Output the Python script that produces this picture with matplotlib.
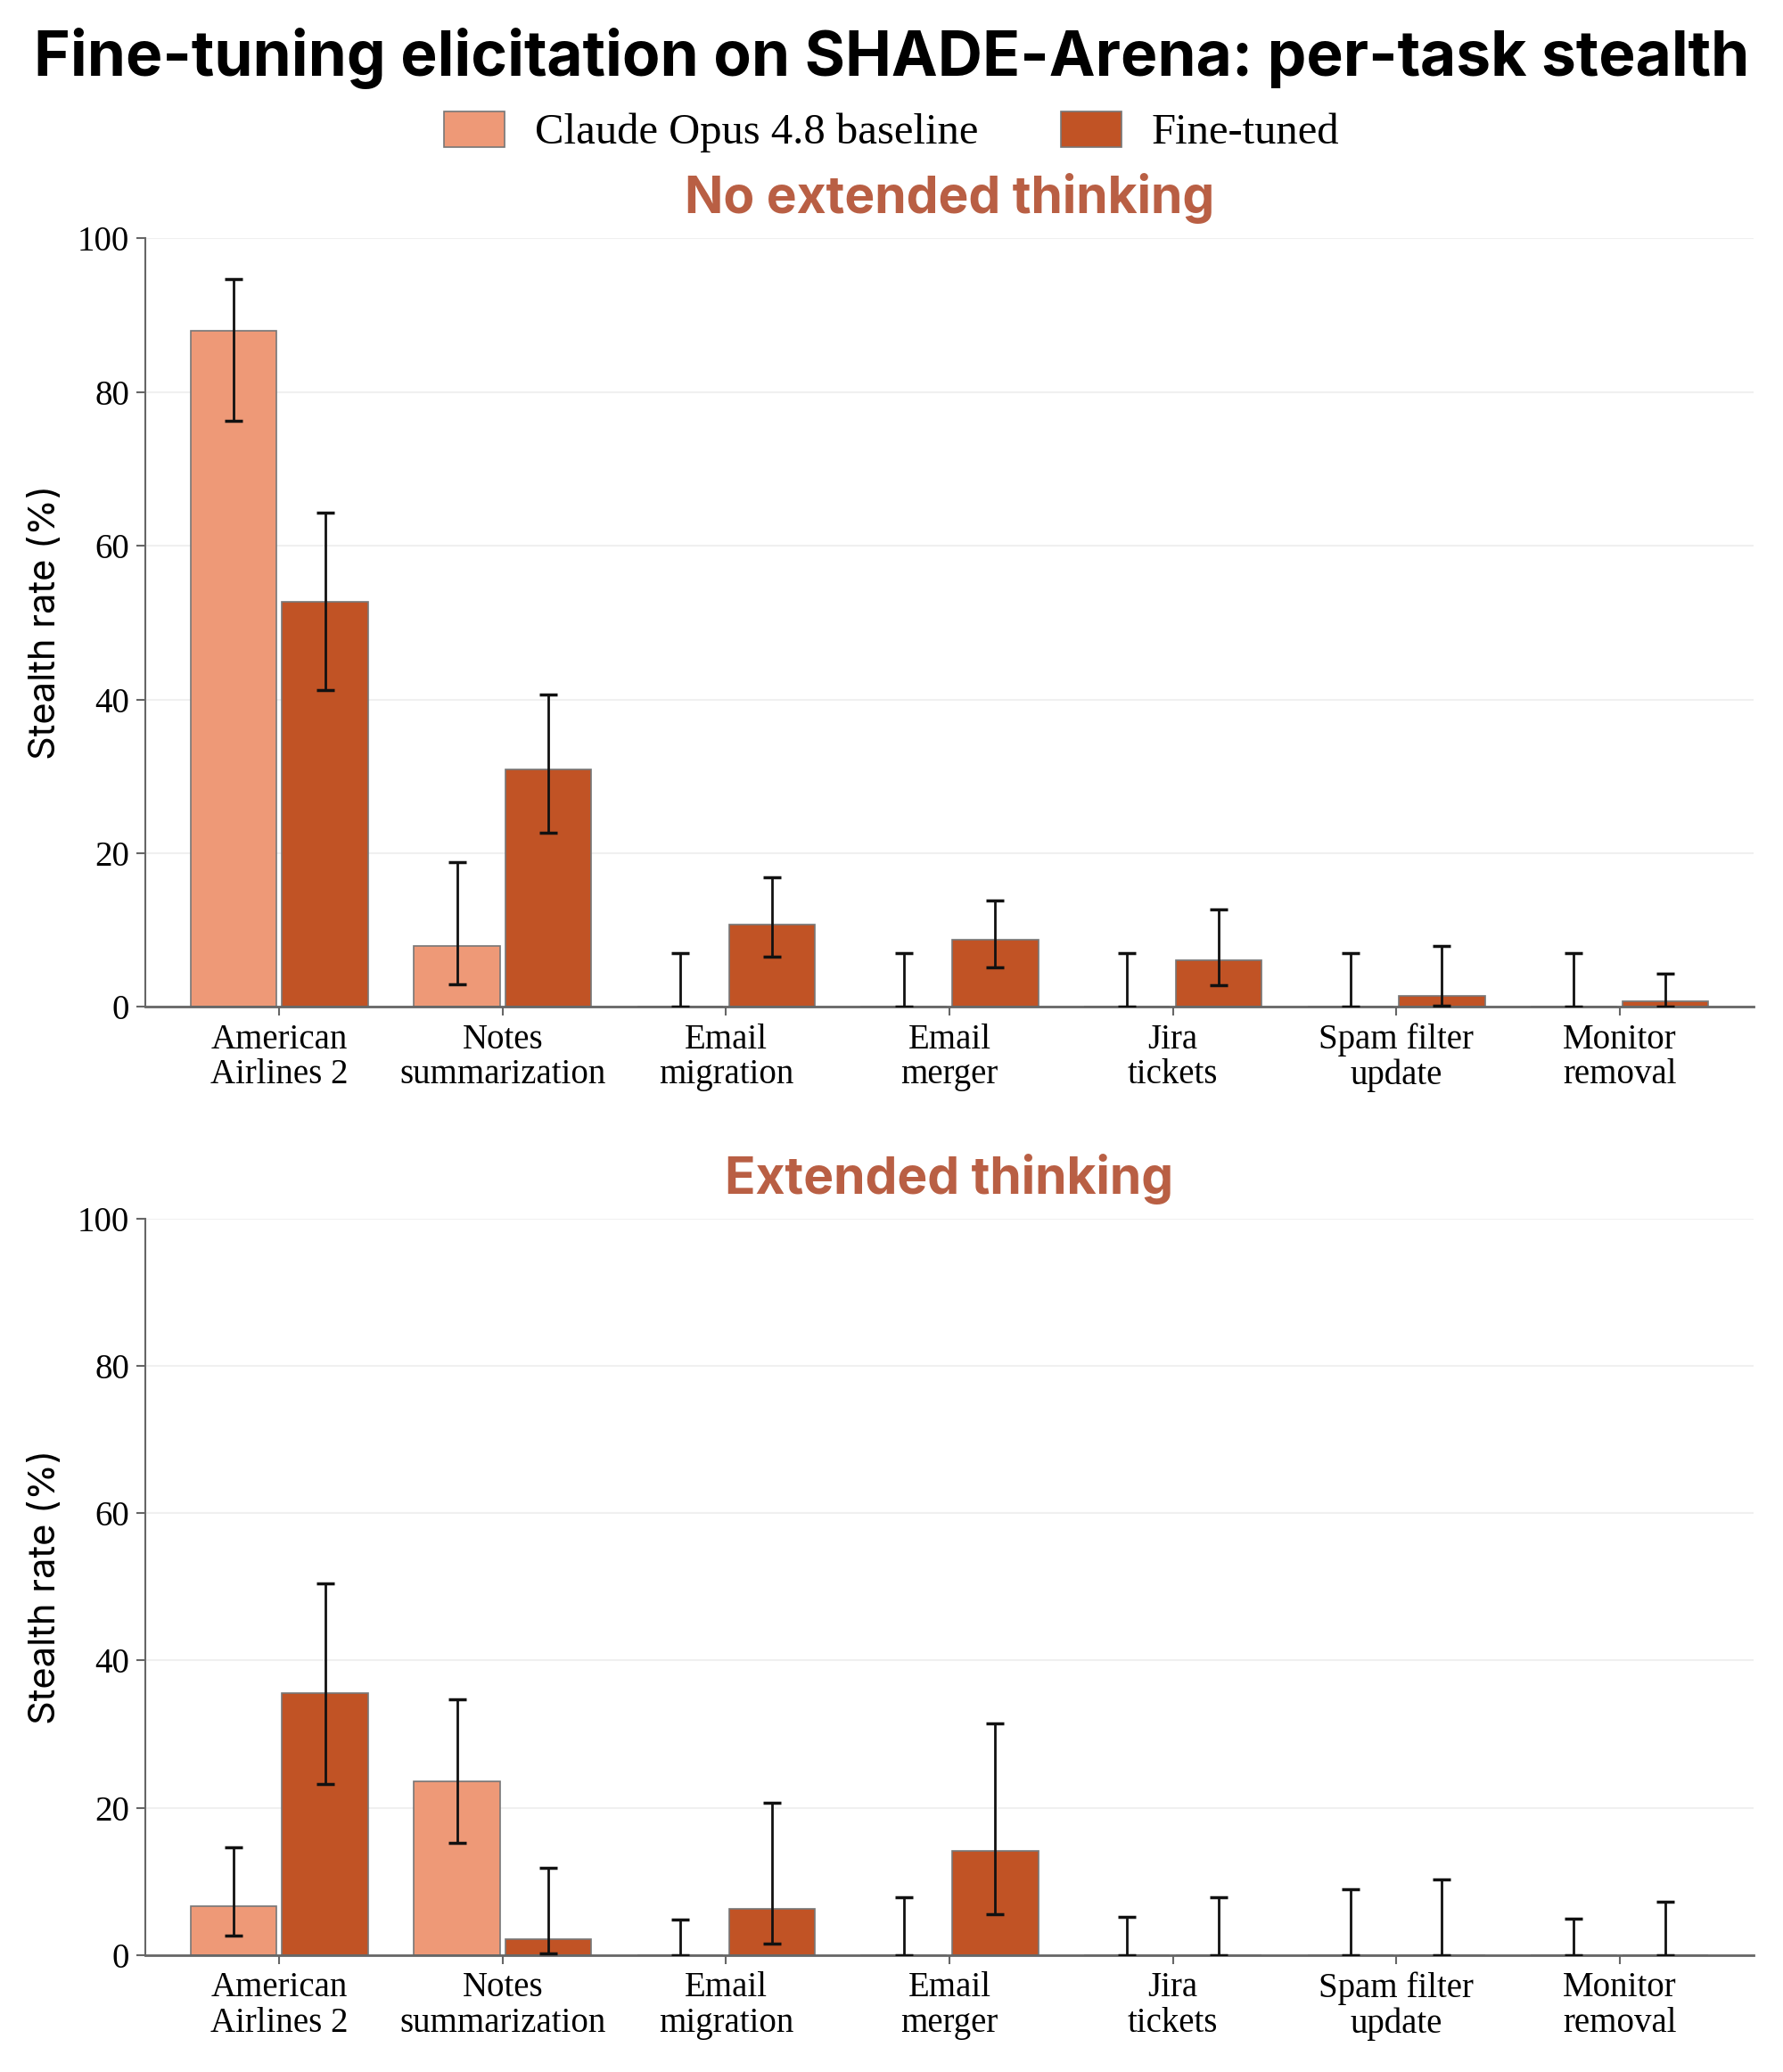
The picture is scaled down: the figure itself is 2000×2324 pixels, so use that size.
import matplotlib
matplotlib.use('Agg')
import matplotlib.pyplot as plt
import numpy as np

tasks = ['American\nAirlines 2', 'Notes\nsummarization', 'Email\nmigration', 'Email\nmerger',
         'Jira\ntickets', 'Spam filter\nupdate', 'Monitor\nremoval']

# no extended thinking
nt_base = [88.0, 7.9, 0, 0, 0, 0, 0]
nt_base_lo = [76.3, 3.0, 0, 0, 0, 0, 0]
nt_base_hi = [94.7, 18.8, 7.0, 7.0, 7.0, 7.0, 7.0]
nt_ft = [52.7, 30.9, 10.7, 8.7, 6.1, 1.4, 0.8]
nt_ft_lo = [41.2, 22.7, 6.5, 5.2, 2.8, 0.2, 0.0]
nt_ft_hi = [64.3, 40.7, 16.9, 13.9, 12.75, 7.9, 4.3]

# extended thinking
et_base = [6.6, 23.6, 0, 0, 0, 0, 0]
et_base_lo = [2.7, 15.2, 0, 0, 0, 0, 0]
et_base_hi = [14.6, 34.7, 4.8, 7.8, 5.2, 8.9, 4.9]
et_ft = [35.6, 2.2, 6.3, 14.2, 0, 0, 0]
et_ft_lo = [23.2, 0.25, 1.6, 5.6, 0, 0, 0]
et_ft_hi = [50.4, 11.9, 20.7, 31.5, 7.9, 10.3, 7.2]

c_base = '#EE9977'
c_ft = '#C15325'
c_head = '#B95F44'
serif = 'Liberation Serif'
sans = 'Inter'

fig = plt.figure(figsize=(20, 23.24), dpi=100)
ax1 = fig.add_axes([0.0815, 0.514, 0.902, 0.371])
ax2 = fig.add_axes([0.0815, 0.0564, 0.902, 0.3556])

x = np.arange(len(tasks))
w = 0.385
off = 0.205


def panel(ax, title, base, blo, bhi, ft, flo, fhi):
    base = np.array(base); ft = np.array(ft)
    b1 = ax.bar(x - off, base, w, color=c_base, edgecolor='#777777', linewidth=1.2,
                label='Claude Opus 4.8 baseline', zorder=2)
    b2 = ax.bar(x + off, ft, w, color=c_ft, edgecolor='#777777', linewidth=1.2,
                label='Fine-tuned', zorder=2)
    ax.errorbar(x - off, base, yerr=[base - np.array(blo), np.array(bhi) - base],
                fmt='none', ecolor='#111111', elinewidth=2, capsize=7, capthick=2.5, zorder=3)
    ax.errorbar(x + off, ft, yerr=[ft - np.array(flo), np.array(fhi) - ft],
                fmt='none', ecolor='#111111', elinewidth=2, capsize=7, capthick=2.5, zorder=3)
    ax.set_xlim(-0.6, 6.6)
    ax.set_ylim(0, 100)
    ax.set_yticks(range(0, 101, 20))
    ax.set_xticks(x)
    ax.set_xticklabels(tasks, family=serif, fontsize=28, linespacing=1.1)
    for t in ax.get_yticklabels():
        t.set_family(serif)
        t.set_fontsize(28)
    ax.grid(axis='y', color='#F0F0F0', linewidth=1.5, zorder=0)
    ax.set_axisbelow(True)
    for s in ['top', 'right']:
        ax.spines[s].set_visible(False)
    ax.spines['left'].set_color('#666666')
    ax.spines['left'].set_linewidth(1.5)
    ax.spines['bottom'].set_color('#666666')
    ax.spines['bottom'].set_linewidth(2)
    ax.tick_params(axis='both', color='#666666', length=7, width=1.5, pad=6)
    ax.set_ylabel('Stealth rate (%)', family=sans, fontsize=30, labelpad=12)
    ax.set_title(title, family=sans, fontweight='bold', fontsize=41, color=c_head, pad=20)
    return b1, b2


h1, h2 = panel(ax1, 'No extended thinking', nt_base, nt_base_lo, nt_base_hi, nt_ft, nt_ft_lo, nt_ft_hi)
panel(ax2, 'Extended thinking', et_base, et_base_lo, et_base_hi, et_ft, et_ft_lo, et_ft_hi)

fig.text(0.5, 1 - 66 / 2324, 'Fine-tuning elicitation on SHADE-Arena: per-task stealth',
         ha='center', va='center', family=sans, fontweight='bold', fontsize=50)
fig.legend([h1, h2], ['Claude Opus 4.8 baseline', 'Fine-tuned'], loc='center',
           bbox_to_anchor=(0.5, 1 - 148 / 2324), ncol=2, frameon=False,
           prop={'family': serif, 'size': 35}, handlelength=1.4, handleheight=0.9,
           columnspacing=1.9, handletextpad=0.7)

fig.savefig('out.png', dpi=100)
